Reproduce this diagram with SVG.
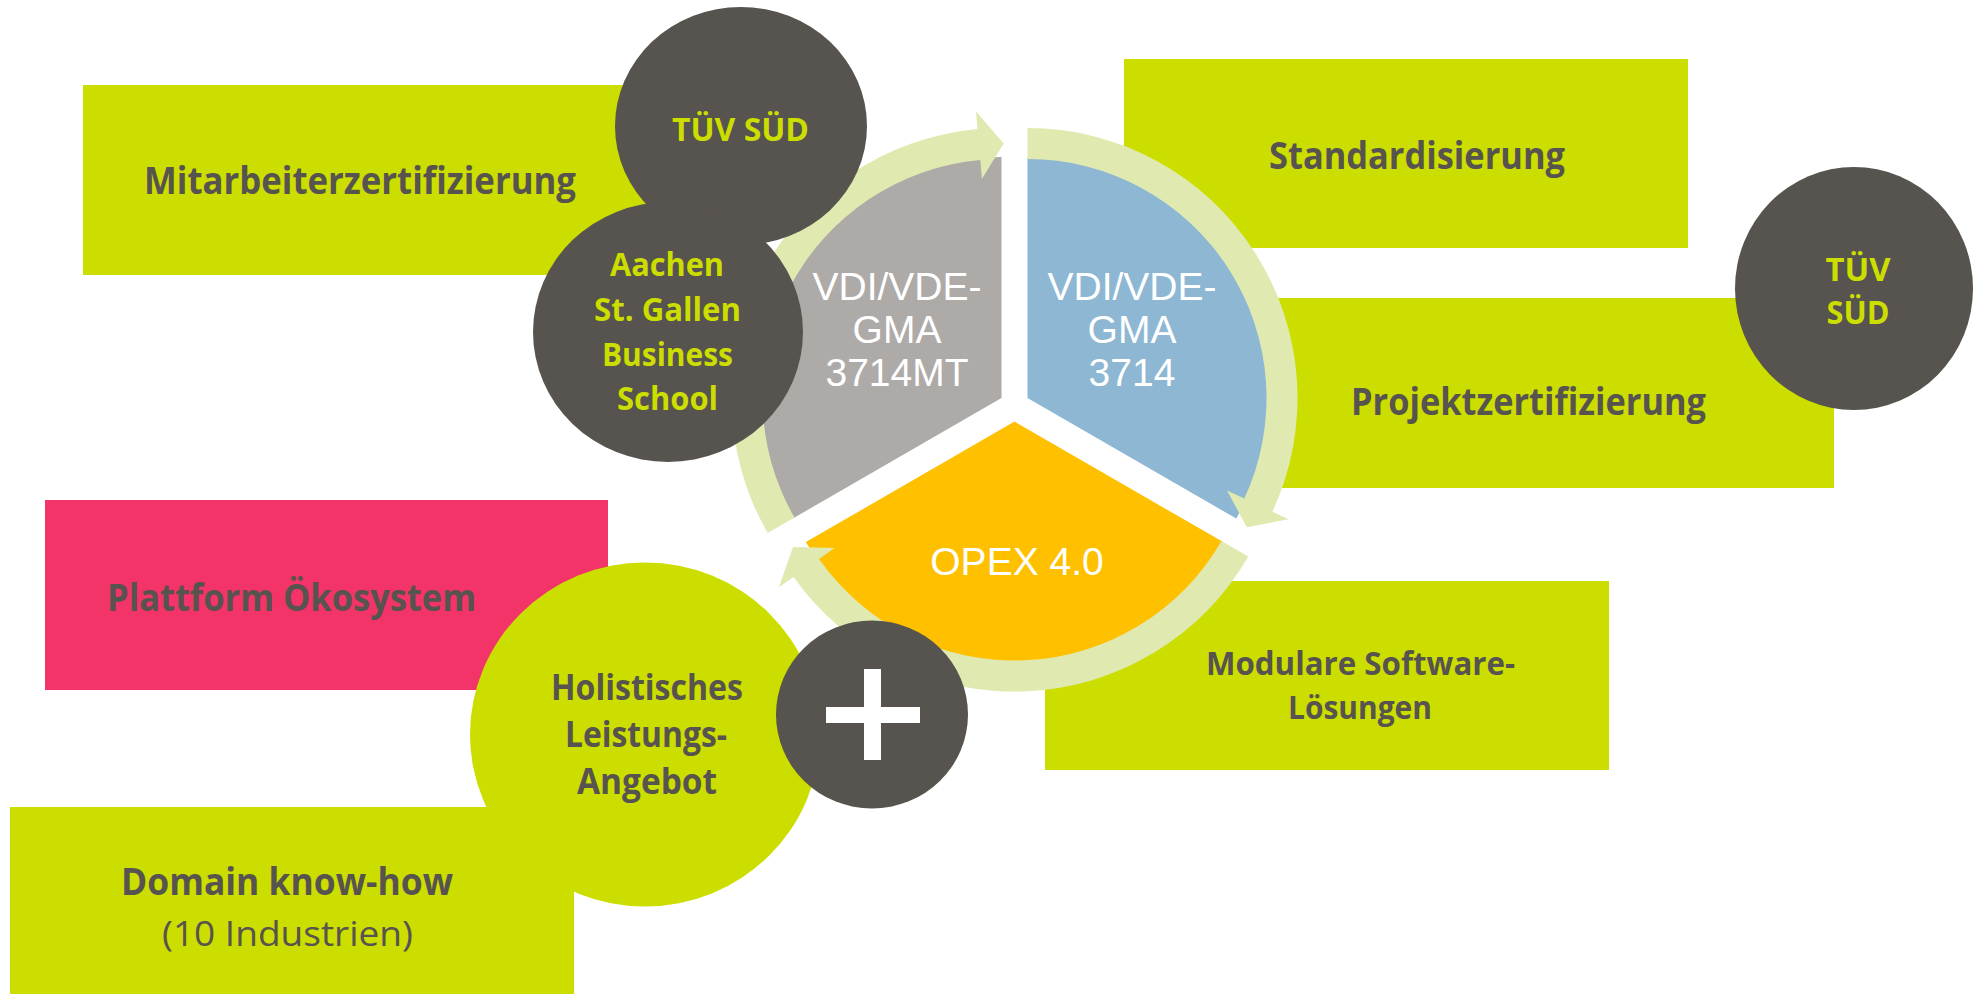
<svg xmlns="http://www.w3.org/2000/svg" width="1974" height="994" viewBox="0 0 1974 994">
<style>
.box{fill:#CCDD00}
.pink{fill:#F23468}
.dark{fill:#57534F}
.ring{fill:#E0EAB0}
.bt{font-family:"Open Sans","Liberation Sans",sans-serif;font-weight:bold;fill:#57534F;text-anchor:middle}
.rt{font-family:"Open Sans","Liberation Sans",sans-serif;font-weight:normal;fill:#57534F;text-anchor:middle}
.lt{font-family:"Open Sans","Liberation Sans",sans-serif;font-weight:bold;fill:#CCDD00;text-anchor:middle}
.wt{font-family:"Liberation Sans",Arial,sans-serif;fill:#FFFFFF;text-anchor:middle;font-size:39px}
</style>
<rect width="1974" height="994" fill="#FFFFFF"/>

<!-- boxes behind the cycle -->
<g id="box-mitarbeiter">
  <rect class="box" x="83" y="85" width="564" height="190"/>
  <text class="bt" x="360" y="194" font-size="37" textLength="432" lengthAdjust="spacingAndGlyphs">Mitarbeiterzertifizierung</text>
</g>
<g id="box-standardisierung">
  <rect class="box" x="1124" y="59" width="564" height="189"/>
  <text class="bt" x="1417" y="169" font-size="37" textLength="296" lengthAdjust="spacingAndGlyphs">Standardisierung</text>
</g>
<g id="box-projekt">
  <rect class="box" x="1270" y="298" width="564" height="190"/>
  <text class="bt" x="1528.5" y="415" font-size="37" textLength="355" lengthAdjust="spacingAndGlyphs">Projektzertifizierung</text>
</g>
<g id="box-modulare">
  <rect class="box" x="1045" y="581" width="564" height="189"/>
  <text class="bt" x="1360.5" y="675" font-size="33" textLength="309" lengthAdjust="spacingAndGlyphs">Modulare Software-</text>
  <text class="bt" x="1360" y="719" font-size="33" textLength="144" lengthAdjust="spacingAndGlyphs">Lösungen</text>
</g>
<g id="box-plattform">
  <rect class="pink" x="45" y="500" width="563" height="190"/>
  <text class="bt" x="291.5" y="611" font-size="37" textLength="369" lengthAdjust="spacingAndGlyphs">Plattform Ökosystem</text>
</g>
<g id="box-domain">
  <rect class="box" x="10" y="807" width="564" height="190"/>
  <text class="bt" x="287" y="895" font-size="37" textLength="332" lengthAdjust="spacingAndGlyphs">Domain know-how</text>
  <text class="rt" x="287.5" y="946" font-size="35" textLength="251" lengthAdjust="spacingAndGlyphs">(10 Industrien)</text>
</g>

<!-- pie sectors -->
<g id="sector-3714MT">
  <path fill="#AEAAA8" d="M1001.5 398 L792.8 518.5 A241 241 0 0 1 1001.5 157 Z"/>
  <text class="wt" x="897" y="300">VDI/VDE-</text>
  <text class="wt" x="897" y="343">GMA</text>
  <text class="wt" x="897" y="386">3714MT</text>
</g>
<g id="sector-3714">
  <path fill="#8DB7D3" d="M1027.5 398 L1027.5 157 A241 241 0 0 1 1236.2 518.5 Z"/>
  <text class="wt" x="1132" y="300">VDI/VDE-</text>
  <text class="wt" x="1132" y="343">GMA</text>
  <text class="wt" x="1132" y="386">3714</text>
</g>
<g id="sector-opex">
  <path fill="#FFC000" d="M1014.5 421.6 L1223.2 542.1 A241 241 0 0 1 805.8 542.1 Z"/>
  <text class="wt" x="1017" y="575">OPEX 4.0</text>
</g>

<!-- cycle arrows -->
<g id="connectors">
  <path class="ring" d="M767.7 533 A270 270 0 0 1 977.5 129.1 L975.9 111.2 L1003.7 143.5 L981.9 178.9 L980.3 160 A239 239 0 0 0 794.5 517.5 Z"/>
  <path class="ring" d="M1027.5 128 A270 270 0 0 1 1272.4 511.7 L1288.7 519.2 L1246.8 527.2 L1227 490.6 L1244.3 498.6 A239 239 0 0 0 1027.5 159 Z"/>
  <path class="ring" d="M1248.3 556.6 A270 270 0 0 1 793.6 576.9 L778.9 587.2 L793 546.9 L834.5 548.1 L819 559 A239 239 0 0 0 1221.5 541.1 Z"/>
</g>

<!-- circles -->
<g id="circle-tuev-top">
  <ellipse class="dark" cx="741" cy="126" rx="126" ry="119"/>
  <text class="lt" x="740.5" y="141" font-size="33" textLength="137" lengthAdjust="spacingAndGlyphs">TÜV SÜD</text>
</g>
<g id="circle-aachen">
  <ellipse class="dark" cx="668" cy="332" rx="135" ry="130"/>
  <text class="lt" x="667" y="276" font-size="33" textLength="114" lengthAdjust="spacingAndGlyphs">Aachen</text>
  <text class="lt" x="667.5" y="321" font-size="33" textLength="147" lengthAdjust="spacingAndGlyphs">St. Gallen</text>
  <text class="lt" x="667.5" y="366" font-size="33" textLength="131" lengthAdjust="spacingAndGlyphs">Business</text>
  <text class="lt" x="667.5" y="410" font-size="33" textLength="101" lengthAdjust="spacingAndGlyphs">School</text>
</g>
<g id="circle-tuev-right">
  <ellipse class="dark" cx="1854" cy="288.5" rx="119" ry="121.5"/>
  <text class="lt" x="1858" y="281" font-size="33" textLength="65" lengthAdjust="spacingAndGlyphs">TÜV</text>
  <text class="lt" x="1858" y="324" font-size="33" textLength="63" lengthAdjust="spacingAndGlyphs">SÜD</text>
</g>
<g id="circle-holistisch">
  <ellipse class="box" cx="645" cy="734.5" rx="175" ry="172"/>
  <text class="bt" x="647" y="700" font-size="35" textLength="192" lengthAdjust="spacingAndGlyphs">Holistisches</text>
  <text class="bt" x="646" y="747" font-size="35" textLength="162" lengthAdjust="spacingAndGlyphs">Leistungs-</text>
  <text class="bt" x="647" y="794" font-size="35" textLength="140" lengthAdjust="spacingAndGlyphs">Angebot</text>
</g>
<g id="circle-plus">
  <ellipse class="dark" cx="872" cy="714.5" rx="96" ry="94"/>
  <rect fill="#FFFFFF" x="864" y="669" width="17" height="91"/>
  <rect fill="#FFFFFF" x="826" y="707" width="94" height="16"/>
</g>
</svg>
